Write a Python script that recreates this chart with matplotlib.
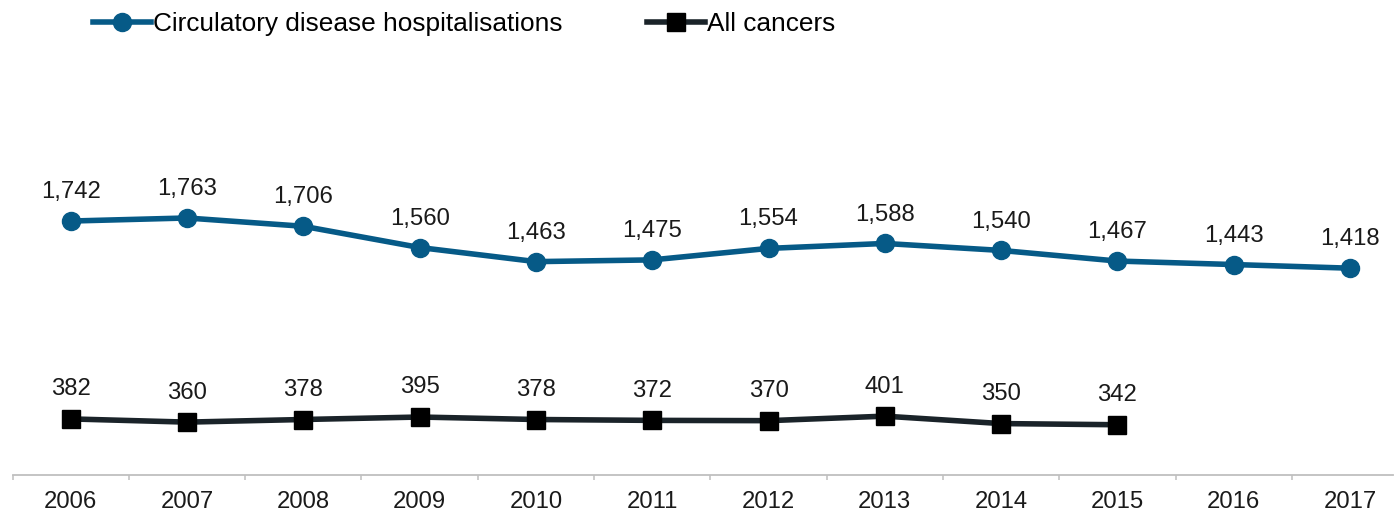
import matplotlib
matplotlib.use("Agg")
import matplotlib.pyplot as plt
from matplotlib.ticker import FixedLocator

plt.rcParams['font.family'] = ['Liberation Sans', 'DejaVu Sans']

years = ['2006', '2007', '2008', '2009', '2010', '2011', '2012', '2013', '2014', '2015', '2016', '2017']
circulatory = [1742, 1763, 1706, 1560, 1463, 1475, 1554, 1588, 1540, 1467, 1443, 1418]
cancers = [382, 360, 378, 395, 378, 372, 370, 401, 350, 342]

blue = '#065a87'
dark_line = '#1a2329'

fig = plt.figure(figsize=(14, 5.15), dpi=100)
W, H = 1400, 515
ax = fig.add_axes([12.6 / W, (H - 474.5) / H, (1393 - 12.6) / W, (474.5 - 38) / H])

x1 = list(range(len(circulatory)))
x2 = list(range(len(cancers)))
fs = 17.2

l1, = ax.plot(x1, circulatory, color=blue, lw=4, marker='o', ms=13,
              markerfacecolor=blue, markeredgecolor=blue,
              label='Circulatory disease hospitalisations')
l2, = ax.plot(x2, cancers, color=dark_line, lw=4, marker='s', ms=12.5,
              markerfacecolor='black', markeredgecolor='black', label='All cancers')

for xi, v in zip(x1, circulatory):
    ax.annotate(f'{v:,}', (xi, v), xytext=(0, 16.5), textcoords='offset points',
                ha='center', va='baseline', fontsize=fs, color='#1a1a1a')
for xi, v in zip(x2, cancers):
    ax.annotate(f'{v:,}', (xi, v), xytext=(0, 17), textcoords='offset points',
                ha='center', va='baseline', fontsize=fs, color='#1a1a1a')

ax.set_xlim(-0.5, 11.37)
ax.set_ylim(0, 3000)
ax.set_xticks(x1)
ax.set_xticklabels(years, fontsize=fs, color='#1a1a1a')
ax.xaxis.set_minor_locator(FixedLocator([i - 0.5 for i in range(len(years))]))
ax.tick_params(axis='x', which='major', length=0, pad=12)
ax.tick_params(axis='x', which='minor', length=3.5, width=1.1, color='#bfbfbf', direction='out')
ax.set_yticks([])
for s in ['top', 'right', 'left']:
    ax.spines[s].set_visible(False)
ax.spines['bottom'].set_color('#bfbfbf')
ax.spines['bottom'].set_linewidth(1.3)

fig.legend(handles=[l1, l2], loc='center left', bbox_to_anchor=(93 / W, 1 - 24 / H),
           ncol=2, frameon=False, fontsize=18.9, borderpad=0, borderaxespad=0,
           handlelength=2.2, handletextpad=0.1, columnspacing=3.2, markerscale=1.0)

fig.savefig('out.png', dpi=100)
